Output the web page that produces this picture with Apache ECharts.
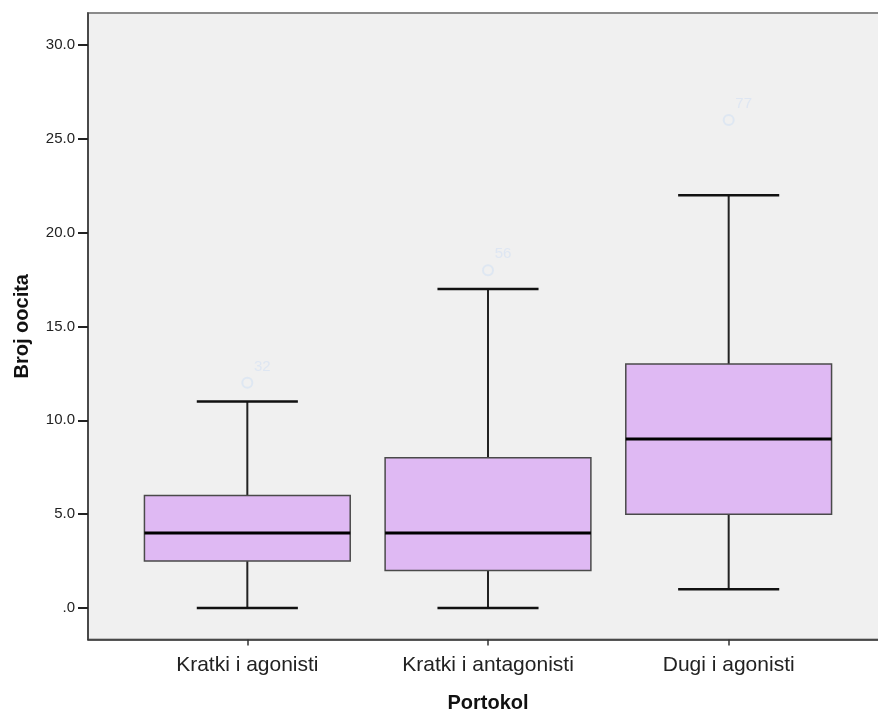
<!DOCTYPE html>
<html>
<head>
<meta charset="utf-8">
<script src="https://cdn.jsdelivr.net/npm/echarts@6/dist/echarts.min.js"></script>
<style>
html,body{margin:0;padding:0;background:#fff;overflow:hidden;}
#chart{width:878px;height:711px;}
</style>
</head>
<body>
<div id="chart"></div>
<script>
// ---- data ----
const categories = ['Kratki i agonisti', 'Kratki i antagonisti', 'Dugi i agonisti'];
const whiskerLow  = [0, 0, 1];
const q1          = [2.5, 2, 5];
const medians     = [4, 4, 9];
const q3          = [6, 8, 13];
const whiskerHigh = [11, 17, 22];
const outlierValues = [12, 18, 26];
const outlierIds    = ['32', '56', '77'];
const yTicks = [0, 5, 10, 15, 20, 25, 30];

// ---- build ----
const boxData = categories.map((c, i) => [i, whiskerLow[i], q1[i], medians[i], q3[i], whiskerHigh[i]]);
const outlierData = outlierValues.map((v, i) => [i, v, outlierIds[i]]);

const BOX_W = 0.855;
const CAP_W = 0.42;

const chart = echarts.init(document.getElementById('chart'), null, {renderer: 'canvas'});
const FONT = '"Liberation Sans", Arial, sans-serif';

chart.setOption({
  animation: false,
  backgroundColor: '#ffffff',
  grid: {
    left: 88, top: 13, right: -10, bottom: 71.5,
    outerBoundsMode: 'none',
    containLabel: false,
    show: true, backgroundColor: '#f0f0f0', borderColor: '#8a8a8a', borderWidth: 2
  },
  xAxis: {
    type: 'value',
    min: -0.662, max: 2.662,
    splitLine: {show: false},
    axisLine: {show: true, onZero: false, lineStyle: {color: '#333', width: 1.5}},
    axisTick: {show: true, customValues: [0, 1, 2], length: 6, lineStyle: {color: '#333', width: 1.5}},
    axisLabel: {
      show: true, customValues: [0, 1, 2], margin: 15,
      fontFamily: FONT, fontSize: 21, color: '#222',
      formatter: v => categories[Math.round(v)]
    },
    name: 'Portokol', nameLocation: 'middle', nameGap: 54,
    nameTextStyle: {fontFamily: FONT, fontSize: 20, fontWeight: 'bold', color: '#111'}
  },
  yAxis: {
    type: 'value',
    min: -1.678, max: 31.705,
    splitLine: {show: false},
    axisLine: {show: true, onZero: false, lineStyle: {color: '#333', width: 1.5}},
    axisTick: {show: true, customValues: yTicks, length: 10, lineStyle: {color: '#222', width: 2}},
    axisLabel: {
      show: true, customValues: yTicks, margin: 13,
      fontFamily: FONT, fontSize: 15, color: '#222',
      formatter: v => v === 0 ? '.0' : v.toFixed(1)
    },
    name: 'Broj oocita', nameLocation: 'middle', nameGap: 56, nameRotate: 90,
    nameTextStyle: {fontFamily: FONT, fontSize: 20, fontWeight: 'bold', color: '#111'}
  },
  series: [
    {
      type: 'custom',
      data: boxData,
      clip: false,
      renderItem: function (params, api) {
        const x = api.value(0);
        const pLow = api.coord([x, api.value(1)]);
        const pQ1 = api.coord([x, api.value(2)]);
        const pMed = api.coord([x, api.value(3)]);
        const pQ3 = api.coord([x, api.value(4)]);
        const pHigh = api.coord([x, api.value(5)]);
        const hw = api.size([BOX_W, 0])[0] / 2;
        const cw = api.size([CAP_W, 0])[0] / 2;
        const cx = pMed[0];
        const wStyle = {stroke: '#222', lineWidth: 2};
        const capStyle = {stroke: '#111', lineWidth: 2.5};
        return {
          type: 'group',
          children: [
            {type: 'line', shape: {x1: cx, y1: pLow[1], x2: cx, y2: pQ1[1]}, style: wStyle},
            {type: 'line', shape: {x1: cx, y1: pQ3[1], x2: cx, y2: pHigh[1]}, style: wStyle},
            {type: 'line', shape: {x1: cx - cw, y1: pLow[1], x2: cx + cw, y2: pLow[1]}, style: capStyle},
            {type: 'line', shape: {x1: cx - cw, y1: pHigh[1], x2: cx + cw, y2: pHigh[1]}, style: capStyle},
            {type: 'rect', shape: {x: cx - hw, y: pQ3[1], width: 2 * hw, height: pQ1[1] - pQ3[1]},
              style: {fill: '#dfb9f3', stroke: '#4a4a4a', lineWidth: 1.5}},
            {type: 'line', shape: {x1: cx - hw, y1: pMed[1], x2: cx + hw, y2: pMed[1]},
              style: {stroke: '#000', lineWidth: 3}}
          ]
        };
      }
    },
    {
      type: 'scatter',
      data: outlierData,
      symbol: 'circle',
      symbolSize: 10,
      itemStyle: {color: 'rgba(0,0,0,0)', borderColor: '#dae5f3', borderWidth: 2},
      label: {
        show: true,
        formatter: p => p.value[2],
        position: 'inside',
        offset: [15, -16],
        fontFamily: FONT, fontSize: 15, color: '#d9e4f3'
      },
      z: 3
    }
  ]
});
</script>
</body>
</html>
